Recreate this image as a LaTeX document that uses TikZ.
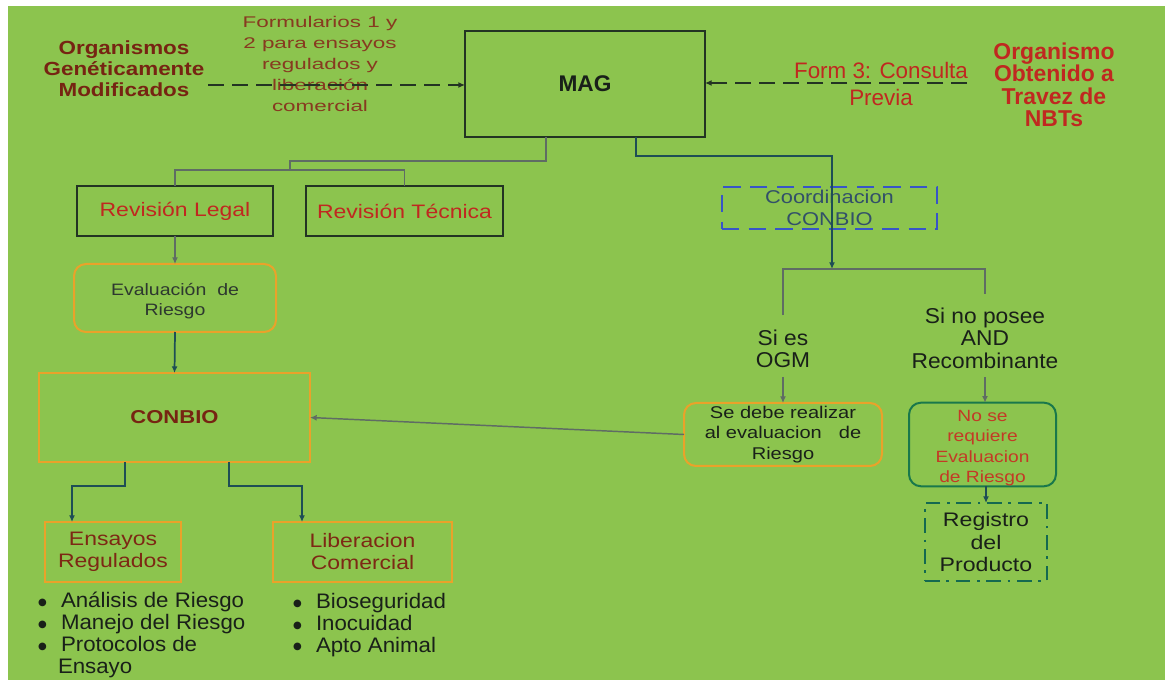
\documentclass[tikz,border=0pt]{standalone}
\usepackage{fontspec}
\setmainfont{Liberation Sans}
\newfontfamily\fsS[FakeStretch=1.18]{Liberation Sans}
\newfontfamily\fsW[FakeStretch=1.45]{Liberation Sans}
\newfontfamily\fsE[FakeStretch=1.06]{Liberation Sans}
\newfontfamily\dejavu{DejaVu Sans}
\usetikzlibrary{arrows.meta}
\newdimen\px \px=0.75pt
\newcommand{\blt}{\raisebox{1.8pt}{\dejavu\fontsize{7.5}{8}\selectfont ●}}
\definecolor{bg}{RGB}{140,196,78}
\definecolor{darkred}{RGB}{118,36,18}
\definecolor{brownred}{RGB}{135,58,32}
\definecolor{brownred2}{RGB}{125,40,20}
\definecolor{redtxt}{RGB}{192,40,32}
\definecolor{redtxt2}{RGB}{195,58,38}
\definecolor{boxline}{RGB}{35,52,35}
\definecolor{orangeline}{RGB}{234,162,42}
\definecolor{greyline}{RGB}{95,108,100}
\definecolor{tealline}{RGB}{30,78,85}
\definecolor{blueline}{RGB}{55,85,200}
\definecolor{greenline}{RGB}{25,120,75}
\definecolor{dashgreen}{RGB}{20,105,80}
\definecolor{txtdark}{RGB}{25,32,25}
\definecolor{txtgrey}{RGB}{45,56,47}
\definecolor{txtblue}{RGB}{50,80,105}
\tikzset{
  nbase/.style={inner sep=0pt, outer sep=0pt},
  sz/.style 2 args={minimum width=#1, minimum height=#2},
  darkbox/.style={nbase, draw=boxline, line width=1.9pt},
  obox/.style={nbase, draw=orangeline, line width=1.5pt},
  rbox/.style={obox, rounded corners=9pt},
  conn/.style={draw=greyline, line width=1.1pt},
  tconn/.style={draw=tealline, line width=1.3pt},
  arr/.style={-{Latex[length=5pt,width=4.5pt]}},
  dasharrow/.style={draw=boxline, line width=1.5pt, dash pattern=on 12pt off 6pt, -{Latex[length=5pt,width=4.5pt]}},
}
\begin{document}
\begin{tikzpicture}[x=0.75pt,y=-0.75pt]
\useasboundingbox (0,0) rectangle (1165,680);
\fill[white] (0,0) rectangle (1165,680);
\fill[bg] (8,6) rectangle (1165,680);

% top row
\node[nbase, align=center, text=darkred, font=\fsS\bfseries\fontsize{14.25}{15.75}\selectfont] (orgL) at (124,69) {Organismos\\Genéticamente\\Modificados};
\node[nbase, align=center, text=brownred, font=\fsW\fontsize{11.6}{15.75}\selectfont] (form12) at (320,64) {Formularios 1 y\\2 para ensayos\\regulados y\\liberación\\comercial};
\node[darkbox, sz={180pt}{79.5pt}, text=txtdark, font=\bfseries\fontsize{17}{19}\selectfont] (mag) at (585,84) {MAG};
\node[nbase, align=center, text=redtxt, font=\fontsize{16.8}{20}\selectfont] (form3) at (881,84) {Form 3: Consulta\\Previa};
\node[nbase, align=center, text=redtxt, font=\bfseries\fontsize{17.2}{16.9}\selectfont] (orgR) at (1054,85) {Organismo\\Obtenido a\\Travez de\\NBTs};

\coordinate (dl) at (208,85);
\coordinate (dr) at (967,83);
\draw[dasharrow] (dl) -- (mag.west |- dl);
\draw[dasharrow] (dr) -- (mag.east |- dr);

% second row
\node[darkbox, sz={147pt}{37.5pt}, text=redtxt, font=\fsS\fontsize{14.6}{17}\selectfont] (revL) at (175,211) {Revisión Legal};
\node[darkbox, sz={147.75pt}{37.5pt}, text=redtxt, font=\fsS\fontsize{14.6}{17}\selectfont] (revT) at (404.5,211) {Revisión Técnica};
\node[nbase, draw=blueline, line width=2.2pt, dash pattern=on 13pt off 7pt, sz={161.25pt}{31.5pt}, align=center, text=txtblue, font=\fsS\fontsize{13.9}{16.5}\selectfont] (coord) at (829.5,208) {Coordinacion\\CONBIO};

\node[rbox, sz={151.5pt}{51pt}, align=center, text=txtgrey, font=\fsS\fontsize{12.4}{15}\selectfont] (eval) at (175,298) {\rule{0pt}{14pt}Evaluación\ \ de\\Riesgo};
\node[obox, sz={203.25pt}{66.75pt}, text=darkred, font=\fsS\bfseries\fontsize{14}{16}\selectfont] (conbio) at (174.5,417.5) {CONBIO};
\node[obox, sz={102pt}{45pt}, align=center, text=brownred2, font=\fsS\fontsize{14.6}{16.5}\selectfont] (ens) at (113,552) {Ensayos\\Regulados};
\node[obox, sz={134.25pt}{45pt}, align=center, text=brownred2, font=\fsS\fontsize{14.6}{16.5}\selectfont] (lib) at (362.5,552) {Liberacion\\Comercial};

\node[nbase, anchor=west, align=left, text=txtdark, font=\fsE\fontsize{15.75}{16.3}\selectfont] (listA) at (38,635) {\makebox[23\px][l]{\blt}Análisis de Riesgo\\ \makebox[23\px][l]{\blt}Manejo del Riesgo\\ \makebox[23\px][l]{\blt}Protocolos de\\ \makebox[20\px][l]{}Ensayo};
\node[nbase, anchor=west, align=left, text=txtdark, font=\fsE\fontsize{15.75}{16.3}\selectfont] (listB) at (293,625) {\makebox[23\px][l]{\blt}Bioseguridad\\ \makebox[23\px][l]{\blt}Inocuidad\\ \makebox[23\px][l]{\blt}Apto Animal};

% right side
\node[nbase, align=center, text=txtdark, font=\fsE\fontsize{16.1}{16.9}\selectfont] (siOGM) at (783,349) {Si es\\OGM};
\node[nbase, align=center, text=txtdark, font=\fsE\fontsize{16.1}{16.9}\selectfont] (siNo) at (985,338) {Si no posee\\AND\\Recombinante};
\node[rbox, sz={148.5pt}{47.25pt}, align=center, text=txtdark, font=\fsS\fontsize{12.75}{15.4}\selectfont] (sedebe) at (783,434.5) {Se debe realizar\\al evaluacion\quad de\\Riesgo};
\node[nbase, draw=greenline, line width=1.5pt, rounded corners=9pt, sz={110.25pt}{62.25pt}, align=center, text=redtxt2, font=\fsS\fontsize{12.2}{15.4}\selectfont] (nose) at (982.5,444.5) {\rule{0pt}{14pt}No se\\requiere\\Evaluacion\\de Riesgo};
\node[nbase, draw=dashgreen, line width=1.6pt, dash pattern=on 11pt off 5pt on 2pt off 5pt, sz={91.5pt}{58.5pt}, align=center, text=txtdark, font=\fsS\fontsize{14.7}{16.9}\selectfont] (reg) at (986,542) {Registro\\del\\Producto};

% connectors
\coordinate (j1) at (290,170);
\draw[conn] (mag.south -| 546,0) |- (j1 |- 0,161) -- (j1);
\draw[conn] (revL.north) |- (j1) -| (revT.north);
\draw[conn, arr] (revL.south) -- (eval.north);
\draw[tconn, arr] (eval.south) -- (conbio.north);
\draw[tconn, arr] (conbio.south -| 125,0) |- (72,486) -- (ens.north -| 72,0);
\draw[tconn, arr] (conbio.south -| 229,0) |- (302,486) -- (lib.north -| 302,0);

\coordinate (br) at (832,269);
\draw[tconn, arr] (mag.south -| 636,0) |- (br |- 0,156) -- (br);
\draw[conn] ([yshift=11pt]siOGM.north) |- (br) -| ([yshift=10.5pt]siNo.north);
\draw[conn, arr] ([yshift=-6.5pt]siOGM.south) -- (sedebe.north);
\draw[conn, arr] ([yshift=-6.5pt]siNo.south) -- (siNo.south |- nose.north);
\draw[conn, arr] (sedebe.west) -- (conbio.east);
\draw[tconn, arr] (nose.south -| reg.north) -- (reg.north);
\end{tikzpicture}
\end{document}
